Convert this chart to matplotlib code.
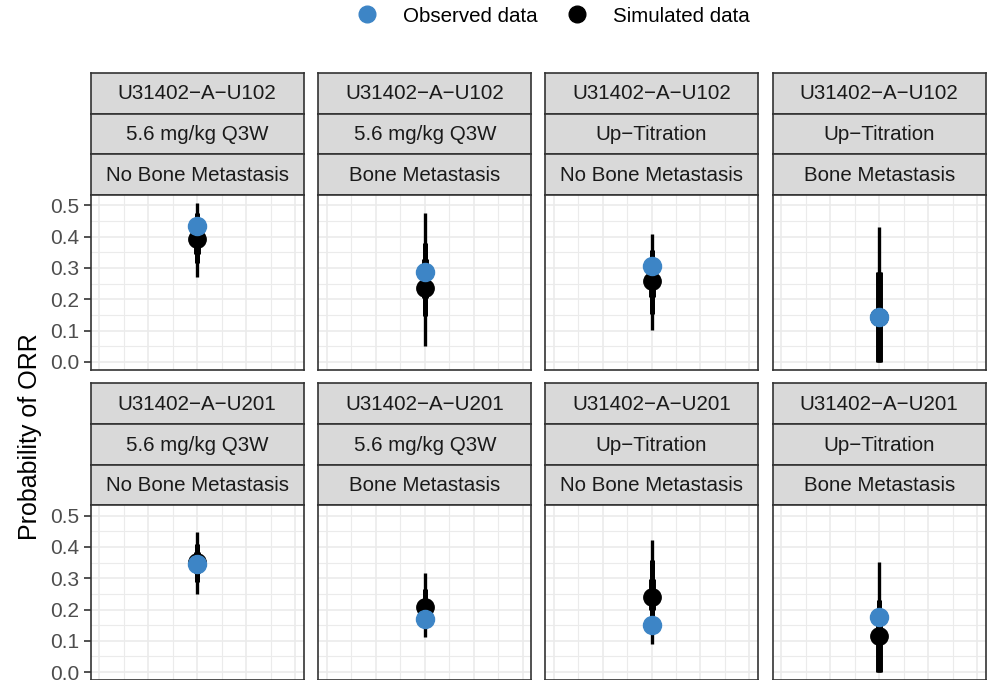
import numpy as np
import matplotlib
matplotlib.use("Agg")
import matplotlib.pyplot as plt
from matplotlib.lines import Line2D

plt.rcParams["font.family"] = ["Liberation Sans", "DejaVu Sans"]

# facet labels (three strips per panel)
studies = ["U31402\u2212A\u2212U102"] * 4 + ["U31402\u2212A\u2212U201"] * 4
regimens = ["5.6 mg/kg Q3W", "5.6 mg/kg Q3W", "Up\u2212Titration", "Up\u2212Titration"] * 2
subgroups = ["No Bone Metastasis", "Bone Metastasis"] * 4

# observed response rate and simulated distribution summaries
observed = [0.433, 0.288, 0.307, 0.143, 0.345, 0.169, 0.150, 0.177]
sim_median = [0.394, 0.237, 0.258, 0.143, 0.352, 0.207, 0.240, 0.116]
lo95 = [0.272, 0.050, 0.103, 0.000, 0.251, 0.111, 0.090, 0.000]
hi95 = [0.508, 0.475, 0.410, 0.431, 0.449, 0.317, 0.423, 0.351]
lo80 = [0.315, 0.145, 0.153, 0.000, 0.288, 0.145, 0.130, 0.000]
hi80 = [0.476, 0.380, 0.359, 0.286, 0.410, 0.267, 0.359, 0.232]
lo50 = [0.346, 0.204, 0.208, 0.000, 0.318, 0.175, 0.198, 0.000]
hi50 = [0.440, 0.330, 0.300, 0.286, 0.385, 0.235, 0.299, 0.175]

BLUE = "#3D85C6"
W, H = 990, 680
col_left = [90.7, 318.3, 545.0, 772.7]
panel_w = 213.0
row_strip_top = [72.7, 383.0]
strip_h = 40.8
panel_h = 174.5


def fx(px):
    return px / W


def fy(py):
    return 1 - py / H


fig = plt.figure(figsize=(9.9, 6.8), dpi=100)

for i in range(8):
    r, c = divmod(i, 4)
    x0 = col_left[c]
    top = row_strip_top[r]

    # strips
    labels = [studies[i], regimens[i], subgroups[i]]
    for k, lab in enumerate(labels):
        sy = top + k * strip_h
        sax = fig.add_axes([fx(x0), fy(sy + strip_h), panel_w / W, strip_h / H])
        sax.set_facecolor("#D9D9D9")
        sax.set_xticks([])
        sax.set_yticks([])
        for sp in sax.spines.values():
            sp.set_color("#333333")
            sp.set_linewidth(1.2)
        sax.text(0.5, 0.48, lab, ha="center", va="center", fontsize=14.8,
                 color="#1A1A1A", transform=sax.transAxes)

    # panel
    py0 = top + 3 * strip_h
    ax = fig.add_axes([fx(x0), fy(py0 + panel_h), panel_w / W, panel_h / H])
    ax.set_xlim(-1.087, 1.087)
    ax.set_ylim(-0.025, 0.533)
    for gx in np.arange(-1, 1.01, 0.25):
        ax.axvline(gx, color="#EBEBEB", lw=1.2 if gx % 0.5 == 0 else 0.8, zorder=0)
    for gy in np.arange(0, 0.51, 0.05):
        major = abs(gy * 10 - round(gy * 10)) < 1e-6
        ax.axhline(gy, color="#EBEBEB", lw=1.2 if major else 0.8, zorder=0)

    ax.plot([0, 0], [lo95[i], hi95[i]], color="black", lw=2.4, solid_capstyle="butt", zorder=2)
    ax.plot([0, 0], [lo80[i], hi80[i]], color="black", lw=3.6, solid_capstyle="butt", zorder=3)
    ax.plot([0, 0], [lo50[i], hi50[i]], color="black", lw=5.0, solid_capstyle="butt", zorder=4)
    ax.plot([0], [sim_median[i]], "o", color="black", ms=12.5, zorder=5)
    ax.plot([0], [observed[i]], "o", color=BLUE, ms=13, mec=BLUE, zorder=6)

    ax.set_xticks([])
    ax.set_yticks([0, 0.1, 0.2, 0.3, 0.4, 0.5])
    if c == 0:
        ax.set_yticklabels(["0.0", "0.1", "0.2", "0.3", "0.4", "0.5"])
        ax.tick_params(axis="y", labelsize=15, labelcolor="#4D4D4D", color="#333333",
                       length=5, width=1.2, pad=3)
    else:
        ax.tick_params(axis="y", left=False, labelleft=False)
    for sp in ax.spines.values():
        sp.set_color("#333333")
        sp.set_linewidth(1.2)

fig.text(fx(30), fy(437), "Probability of ORR", rotation=90, ha="center", va="center",
         fontsize=18, color="black")

handles = [
    Line2D([], [], marker="o", ls="", color=BLUE, ms=12, label="Observed data"),
    Line2D([], [], marker="o", ls="", color="black", ms=12, label="Simulated data"),
]
fig.legend(handles=handles, loc="center", bbox_to_anchor=(fx(548), fy(16)), ncol=2,
           frameon=False, fontsize=14.8, handletextpad=0.75, columnspacing=0.9)

fig.savefig("out.png", dpi=100)
